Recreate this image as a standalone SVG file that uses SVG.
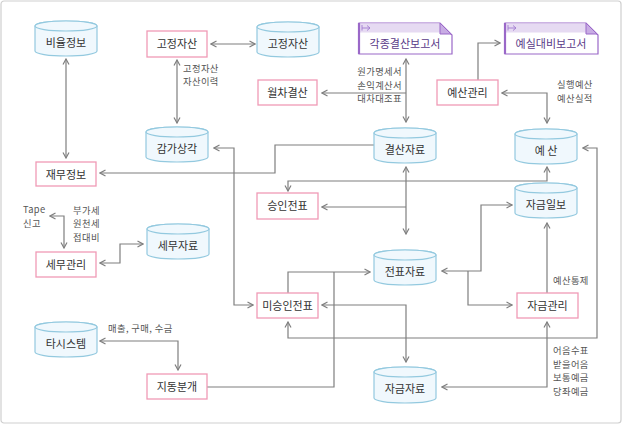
<svg xmlns="http://www.w3.org/2000/svg" width="623" height="425" viewBox="0 0 623 425">
<style>
text{font-family:"Noto Sans CJK KR","Noto Sans",sans-serif;}
.cyl{fill:#f0f8fd;stroke:#93c9df;stroke-width:1.2;}
.box{fill:#fff;stroke:#f09ab6;stroke-width:1.3;}
.nt{font-size:11px;fill:#333;text-anchor:middle;}
.lb{font-size:9.3px;fill:#555;letter-spacing:0.4px;}
.doc{fill:#fff;stroke:#9a68c8;stroke-width:1.2;}
.band{fill:#e6daf2;}
.fold{fill:#c8ace4;stroke:#9a68c8;stroke-width:1;}
.dt{font-size:11px;fill:#5a3a88;text-anchor:middle;}
.ln{fill:none;stroke:#7f7f7f;stroke-width:1.2;}
.ab{marker-start:url(#ah);marker-end:url(#ah);}
.ae{marker-end:url(#ah);}
</style>
<defs>
<marker id="ah" viewBox="0 0 8 8" refX="7" refY="4" markerWidth="8" markerHeight="8" markerUnits="userSpaceOnUse" orient="auto-start-reverse">
<path d="M1.5,1 L7,4 L1.5,7" fill="none" stroke="#7f7f7f" stroke-width="1.2"/>
</marker>
</defs>
<rect x="1" y="1" width="620" height="422" rx="3" fill="#fff" stroke="#cfcfcf" stroke-width="1.2"/>

<g id="connectors">
<path class="ln ab" d="M66,59 V158"/>
<path class="ln ab" d="M211,44 H255"/>
<path class="ln ab" d="M177,60 V123"/>
<path class="ln ab" d="M406,59 V122"/>
<path class="ln ae" d="M406,93 H322"/>
<path class="ln ae" d="M478,80 V43 H500"/>
<path class="ln ab" d="M547,123 V93 H502"/>
<path class="ln ae" d="M374,145 H275 V173 H100"/>
<path class="ln ab" d="M214,148 H234 V305 H253"/>
<path class="ln ab" d="M288,191 V181 H547 V167"/>
<path class="ln ab" d="M406,167 V234"/>
<path class="ln ae" d="M406,207 H322"/>
<path class="ln ae" d="M288,293 V272 H370"/>
<path class="ln" d="M207,387 H334 V272"/>
<path class="ln ab" d="M442,271 H481 V205 H512"/>
<path class="ln ae" d="M468,271 V305 H512"/>
<path class="ln ae" d="M547,293 V223"/>
<path class="ln ab" d="M583,148 H597 V338 H288 V322"/>
<path class="ln ab" d="M322,305 H406 V362"/>
<path class="ln ab" d="M547,322 V387 H442"/>
<path class="ln ab" d="M64,248 V216 H50"/>
<path class="ln ab" d="M100,263 H120 V244 H143"/>
<path class="ln ab" d="M100,341 H178 V370"/>
</g>

<g id="labels">
<text class="lb" x="183" y="71.5">고정자산</text>
<text class="lb" x="183" y="85">자산이력</text>
<text class="lb" x="402" y="75" text-anchor="end">원가명세서</text>
<text class="lb" x="402" y="88.5" text-anchor="end">손익계산서</text>
<text class="lb" x="402" y="102" text-anchor="end">대차대조표</text>
<text class="lb" x="557" y="88">실행예산</text>
<text class="lb" x="557" y="102">예산실적</text>
<text class="lb" x="553" y="284">예산통제</text>
<text class="lb" x="553" y="354">어음수표</text>
<text class="lb" x="553" y="367.5">받을어음</text>
<text class="lb" x="553" y="381">보통예금</text>
<text class="lb" x="553" y="394.5">당좌예금</text>
<text class="lb" x="23" y="213">Tape</text>
<text class="lb" x="23" y="227">신고</text>
<text class="lb" x="73" y="213.5">부가세</text>
<text class="lb" x="73" y="227">원천세</text>
<text class="lb" x="73" y="240.5">접대비</text>
<text class="lb" x="108" y="332">매출, 구매, 수금</text>
</g>

<g id="n-biyul" transform="translate(35,21)"><path class="cyl" d="M0,5 V30 A31,5 0 0 0 62,30 V5 A31,5 0 0 0 0,5Z"/><ellipse class="cyl" cx="31" cy="5" rx="31" ry="5"/><text class="nt" x="31" y="26">비율정보</text></g>
<g id="n-gojeong-db" transform="translate(257,22)"><path class="cyl" d="M0,5 V30 A31,5 0 0 0 62,30 V5 A31,5 0 0 0 0,5Z"/><ellipse class="cyl" cx="31" cy="5" rx="31" ry="5"/><text class="nt" x="31" y="26">고정자산</text></g>
<g id="n-gamga" transform="translate(146,127)"><path class="cyl" d="M0,5 V30 A31,5 0 0 0 62,30 V5 A31,5 0 0 0 0,5Z"/><ellipse class="cyl" cx="31" cy="5" rx="31" ry="5"/><text class="nt" x="31" y="26">감가상각</text></g>
<g id="n-gyeolsan" transform="translate(374,128)"><path class="cyl" d="M0,5 V30 A31,5 0 0 0 62,30 V5 A31,5 0 0 0 0,5Z"/><ellipse class="cyl" cx="31" cy="5" rx="31" ry="5"/><text class="nt" x="31" y="26">결산자료</text></g>
<g id="n-yesan" transform="translate(515,129)"><path class="cyl" d="M0,5 V30 A31,5 0 0 0 62,30 V5 A31,5 0 0 0 0,5Z"/><ellipse class="cyl" cx="31" cy="5" rx="31" ry="5"/><text class="nt" x="31" y="26">예 산</text></g>
<g id="n-jageumilbo" transform="translate(515,183)"><path class="cyl" d="M0,5 V30 A31,5 0 0 0 62,30 V5 A31,5 0 0 0 0,5Z"/><ellipse class="cyl" cx="31" cy="5" rx="31" ry="5"/><text class="nt" x="31" y="26">자금일보</text></g>
<g id="n-semujaryo" transform="translate(147,224)"><path class="cyl" d="M0,5 V30 A31,5 0 0 0 62,30 V5 A31,5 0 0 0 0,5Z"/><ellipse class="cyl" cx="31" cy="5" rx="31" ry="5"/><text class="nt" x="31" y="26">세무자료</text></g>
<g id="n-jeonpyo" transform="translate(374,250)"><path class="cyl" d="M0,5 V30 A31,5 0 0 0 62,30 V5 A31,5 0 0 0 0,5Z"/><ellipse class="cyl" cx="31" cy="5" rx="31" ry="5"/><text class="nt" x="31" y="26">전표자료</text></g>
<g id="n-tasystem" transform="translate(35,322)"><path class="cyl" d="M0,5 V30 A31,5 0 0 0 62,30 V5 A31,5 0 0 0 0,5Z"/><ellipse class="cyl" cx="31" cy="5" rx="31" ry="5"/><text class="nt" x="31" y="26">타시스템</text></g>
<g id="n-jageumjaryo" transform="translate(374,367)"><path class="cyl" d="M0,5 V31 A31,5 0 0 0 62,31 V5 A31,5 0 0 0 0,5Z"/><ellipse class="cyl" cx="31" cy="5" rx="31" ry="5"/><text class="nt" x="31" y="26">자금자료</text></g>

<g id="n-gojeong" transform="translate(147,31)"><rect class="box" width="60" height="26"/><text class="nt" x="30" y="17">고정자산</text></g>
<g id="n-wolcha" transform="translate(258,80)"><rect class="box" width="59" height="25"/><text class="nt" x="29.5" y="17">월차결산</text></g>
<g id="n-yesangwalli" transform="translate(437,80)"><rect class="box" width="61" height="25"/><text class="nt" x="30.5" y="17">예산관리</text></g>
<g id="n-jaemu" transform="translate(36,162)"><rect class="box" width="60" height="24"/><text class="nt" x="30" y="16.5">재무정보</text></g>
<g id="n-seungin" transform="translate(257,193)"><rect class="box" width="61" height="26"/><text class="nt" x="30.5" y="17">승인전표</text></g>
<g id="n-semugwalli" transform="translate(36,252)"><rect class="box" width="60" height="25"/><text class="nt" x="30" y="17">세무관리</text></g>
<g id="n-miseungin" transform="translate(257,293)"><rect class="box" width="61" height="25"/><text class="nt" x="30.5" y="17">미승인전표</text></g>
<g id="n-jageumgwalli" transform="translate(517,293)"><rect class="box" width="61" height="25"/><text class="nt" x="30.5" y="17">자금관리</text></g>
<g id="n-jidong" transform="translate(147,374)"><rect class="box" width="60" height="25"/><text class="nt" x="30" y="17">지동분개</text></g>

<g id="n-report1" transform="translate(359,23)">
<path class="doc" d="M0,0 H81 L93,12 V31 H0 Z"/>
<path class="band" d="M0.6,0.6 H80.7 L89.6,9.5 H0.6 Z"/>
<path class="fold" d="M81,0 V11 H92 Z"/>
<path d="M0,0 V31" stroke="#9a68c8" stroke-width="2.2"/>
<path d="M3,2 V7.5 M3,5 H11 M8,2.5 L11,5 L8,7.5" fill="none" stroke="#a27ad0" stroke-width="0.9"/>
<text class="dt" x="46" y="25">각종결산보고서</text>
</g>
<g id="n-report2" transform="translate(505,23)">
<path class="doc" d="M0,0 H81 L93,12 V31 H0 Z"/>
<path class="band" d="M0.6,0.6 H80.7 L89.6,9.5 H0.6 Z"/>
<path class="fold" d="M81,0 V11 H92 Z"/>
<path d="M0,0 V31" stroke="#9a68c8" stroke-width="2.2"/>
<path d="M3,2 V7.5 M3,5 H11 M8,2.5 L11,5 L8,7.5" fill="none" stroke="#a27ad0" stroke-width="0.9"/>
<text class="dt" x="46" y="25">예실대비보고서</text>
</g>
</svg>
